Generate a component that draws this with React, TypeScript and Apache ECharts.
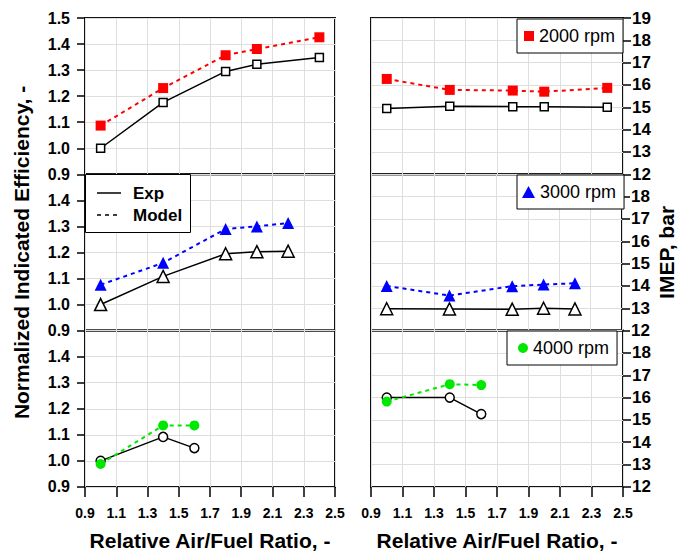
import React, { useEffect, useRef } from "react";
import * as echarts from "echarts";

// ---- data ----
const ratio2000 = [1.0, 1.4, 1.8, 2.0, 2.4];
const effExp2000 = [1.0, 1.176, 1.295, 1.322, 1.348];
const effModel2000 = [1.087, 1.231, 1.357, 1.381, 1.426];
const imepExp2000 = [14.95, 15.05, 15.03, 15.03, 15.0];
const imepModel2000 = [16.27, 15.78, 15.75, 15.7, 15.87];

const ratio3000 = [1.0, 1.4, 1.8, 2.0, 2.2];
const effExp3000 = [1.0, 1.108, 1.195, 1.203, 1.205];
const effModel3000 = [1.076, 1.16, 1.29, 1.3, 1.313];
const imepExp3000 = [12.98, 12.97, 12.96, 13.0, 12.97];
const imepModel3000 = [14.0, 13.57, 13.99, 14.06, 14.12];

const ratio4000 = [1.0, 1.4, 1.6];
const effExp4000 = [1.0, 1.092, 1.049];
const effModel4000 = [0.988, 1.136, 1.136];
const imepExp4000 = [16.0, 16.0, 15.26];
const imepModel4000 = [15.82, 16.6, 16.56];

const xRange = { min: 0.9, max: 2.5, interval: 0.2 };
const effRange = { min: 0.9, max: 1.5, interval: 0.1 };
const imepRange = { min: 12, max: 19, interval: 1 };

const speedNames = ["2000 rpm", "3000 rpm", "4000 rpm"];
const speedColors = ["#ff0000", "#0000ff", "#00e800"];
const lineLegendNames = ["Exp", "Model"];
const xName = "Relative Air/Fuel Ratio, -";
const effName = "Normalized Indicated Efficiency, -";
const imepName = "IMEP, bar";

const FONT = "Liberation Sans, Arial, Helvetica, sans-serif";

export default function App() {
  const ref = useRef<HTMLDivElement>(null);

  useEffect(() => {
    if (!ref.current) return;
    const chart = echarts.init(ref.current, undefined, { renderer: "svg" });

    const tops = [18, 174.3, 330.6];
    const h = 156.3;
    const grids: any[] = [];
    for (let c = 0; c < 2; c++) {
      for (let r = 0; r < 3; r++) {
        grids.push({
          left: c === 0 ? 85 : 371,
          width: c === 0 ? 250 : 252,
          top: tops[r],
          height: h,
          show: true,
          borderColor: "#111",
          borderWidth: 2,
          backgroundColor: "transparent",
        });
      }
    }

    const xAxes: any[] = grids.map((_, i) => {
      const bottom = i % 3 === 2;
      return {
        type: "value",
        gridIndex: i,
        ...xRange,
        axisLine: { show: false },
        axisTick: { show: bottom, inside: false, length: 10, lineStyle: { color: "#000", width: 1.5 } },
        axisLabel: {
          show: bottom,
          margin: 19,
          color: "#000",
          fontFamily: FONT,
          fontWeight: "bold",
          fontSize: 14,
          formatter: (v: number) => v.toFixed(1),
        },
        splitLine: { show: true, lineStyle: { color: "#dedede", width: 1 } },
        name: bottom ? xName : "",
        nameLocation: "middle",
        nameGap: 43,
        nameTextStyle: { color: "#000", fontFamily: FONT, fontWeight: "bold", fontSize: 21 },
      };
    });

    const yAxes: any[] = grids.map((_, i) => {
      const left = i < 3;
      const r = i % 3;
      const range = left ? effRange : imepRange;
      return {
        type: "value",
        gridIndex: i,
        position: left ? "left" : "right",
        ...range,
        axisLine: { show: false },
        axisTick: { show: true, inside: false, length: 8, lineStyle: { color: "#000", width: 1.5 } },
        axisLabel: {
          show: true,
          showMaxLabel: r === 0,
          showMinLabel: true,
          margin: left ? 15 : 9,
          color: "#000",
          fontFamily: FONT,
          fontWeight: "bold",
          fontSize: left ? 16 : 17,
          formatter: (v: number) => (left ? v.toFixed(1) : String(Math.round(v))),
        },
        splitLine: { show: true, lineStyle: { color: "#dedede", width: 1 } },
        name: r === 1 ? (left ? effName : imepName) : "",
        nameLocation: "middle",
        nameRotate: 90,
        nameGap: left ? 53 : 34,
        nameTextStyle: { color: "#000", fontFamily: FONT, fontWeight: "bold", fontSize: 21 },
      };
    });

    const pairs = (xs: number[], ys: number[]) => xs.map((x, i) => [x, ys[i]]);

    const expSeries = (name: string, g: number, xs: number[], ys: number[], symbol: string, size: number) => ({
      type: "line",
      name,
      xAxisIndex: g,
      yAxisIndex: g,
      data: pairs(xs, ys),
      symbol,
      symbolSize: size,
      showSymbol: true,
      lineStyle: { color: "#000", width: 1.5 },
      itemStyle: { color: "#fff", borderColor: "#000", borderWidth: 1.5 },
      z: 3,
    });

    const modelSeries = (name: string, g: number, xs: number[], ys: number[], symbol: string, size: number, color: string) => ({
      type: "line",
      name,
      xAxisIndex: g,
      yAxisIndex: g,
      data: pairs(xs, ys),
      symbol,
      symbolSize: size,
      lineStyle: { color, width: 2, type: [4, 4] },
      itemStyle: { color, borderWidth: 0 },
      z: 4,
    });

    const series: any[] = [
      expSeries("Exp 2000 eff", 0, ratio2000, effExp2000, "rect", 8),
      modelSeries("Model 2000 eff", 0, ratio2000, effModel2000, "rect", 10, speedColors[0]),
      expSeries("Exp 3000 eff", 1, ratio3000, effExp3000, "triangle", 12),
      modelSeries("Model 3000 eff", 1, ratio3000, effModel3000, "triangle", 12, speedColors[1]),
      expSeries("Exp 4000 eff", 2, ratio4000, effExp4000, "circle", 9),
      modelSeries("Model 4000 eff", 2, ratio4000, effModel4000, "circle", 10, speedColors[2]),
      expSeries("Exp 2000 imep", 3, ratio2000, imepExp2000, "rect", 8),
      modelSeries(speedNames[0], 3, ratio2000, imepModel2000, "rect", 10, speedColors[0]),
      expSeries("Exp 3000 imep", 4, ratio3000, imepExp3000, "triangle", 12),
      modelSeries(speedNames[1], 4, ratio3000, imepModel3000, "triangle", 12, speedColors[1]),
      expSeries("Exp 4000 imep", 5, ratio4000, imepExp4000, "circle", 9),
      modelSeries(speedNames[2], 5, ratio4000, imepModel4000, "circle", 10, speedColors[2]),
    ];

    const boxBase = {
      selectedMode: false,
      backgroundColor: "#fff",
      borderColor: "#000",
      borderWidth: 1,
      borderRadius: 0,
      orient: "vertical",
      z: 10,
    };

    const rpmText = { color: "#000", fontFamily: FONT, fontSize: 18, fontWeight: "normal" };

    const legends: any[] = [
      {
        ...boxBase,
        left: 517,
        top: 19,
        padding: [8, 8, 8, 7],
        itemWidth: 10,
        itemHeight: 10,
        itemTextGap: 7,
        textStyle: rpmText,
        data: [{ name: speedNames[0], icon: "rect" }],
      },
      {
        ...boxBase,
        left: 517,
        top: 175,
        padding: [8, 8, 8, 5],
        itemWidth: 13,
        itemHeight: 12,
        itemTextGap: 5,
        textStyle: rpmText,
        data: [{ name: speedNames[1], icon: "triangle" }],
      },
      {
        ...boxBase,
        left: 507,
        top: 331,
        padding: [8, 8, 8, 11],
        itemWidth: 10,
        itemHeight: 10,
        itemTextGap: 11,
        textStyle: rpmText,
        data: [{ name: speedNames[2], icon: "circle" }],
      },
    ];

    const legendTextStyle = {
      fill: "#000",
      fontFamily: FONT,
      fontSize: 17,
      fontWeight: "bold",
      textAlign: "left",
      textVerticalAlign: "middle",
      align: "left",
      verticalAlign: "middle",
    };
    const graphic: any[] = [
      { type: "rect", z: 20, shape: { x: 85.5, y: 174.5, width: 105, height: 58 }, style: { fill: "#fff", stroke: "#000", lineWidth: 1 } },
      { type: "line", z: 21, shape: { x1: 97, y1: 193, x2: 121, y2: 193 }, style: { stroke: "#000", lineWidth: 1.5 } },
      { type: "line", z: 21, shape: { x1: 97, y1: 215, x2: 118, y2: 215 }, style: { stroke: "#000", lineWidth: 1.5, lineDash: [4, 4] } },
      { type: "text", z: 21, x: 133, y: 193, style: { ...legendTextStyle, text: lineLegendNames[0] } },
      { type: "text", z: 21, x: 133, y: 215, style: { ...legendTextStyle, text: lineLegendNames[1] } },
    ];

    chart.setOption({
      animation: false,
      backgroundColor: "#fff",
      textStyle: { fontFamily: FONT },
      grid: grids,
      xAxis: xAxes,
      yAxis: yAxes,
      legend: legends,
      graphic,
      series,
    });

    return () => chart.dispose();
  }, []);

  return (
    <div
      ref={ref}
      style={{ position: "fixed", left: 0, top: 0, width: 678, height: 555, background: "#fff" }}
    />
  );
}
